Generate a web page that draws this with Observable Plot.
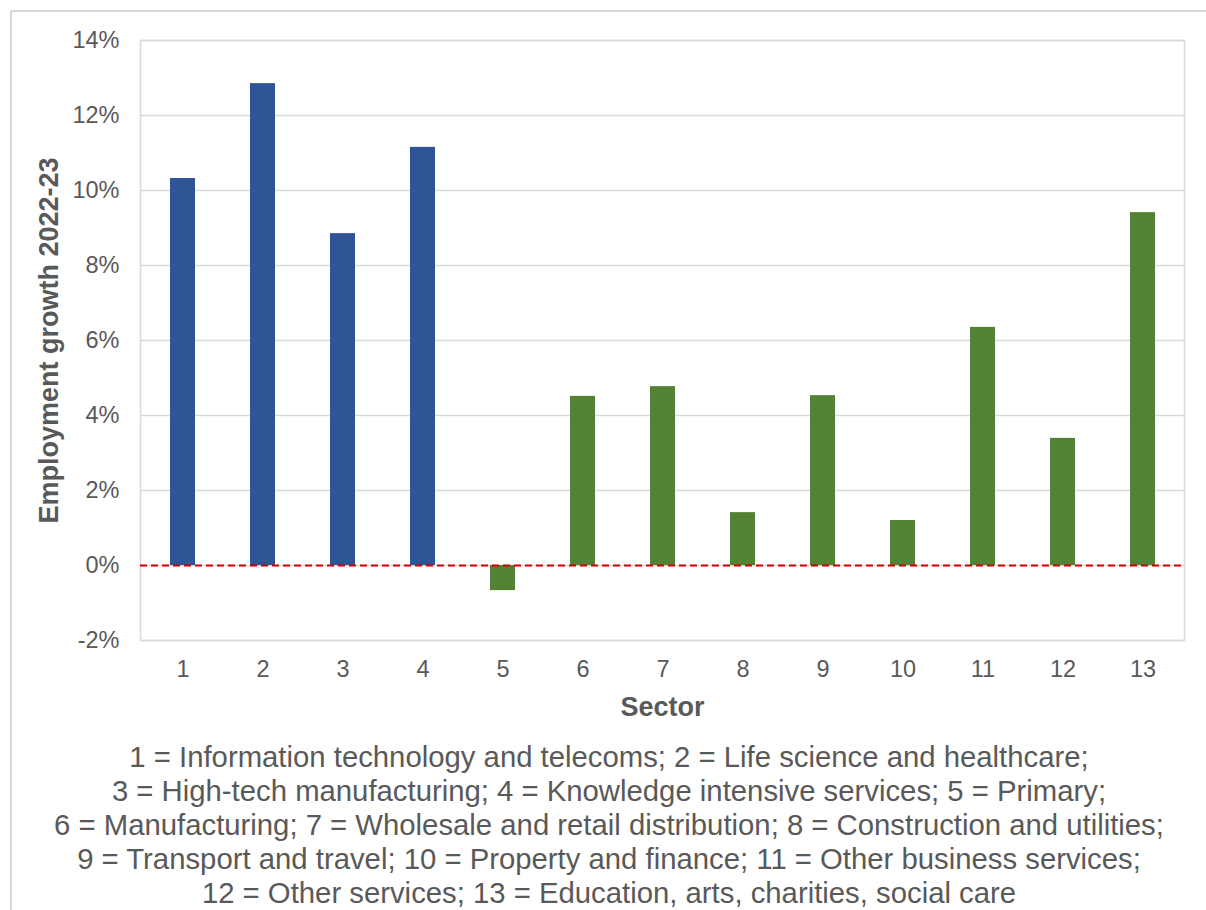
<!DOCTYPE html>
<html>
<head>
<meta charset="utf-8">
<script src="https://cdn.jsdelivr.net/npm/d3@7"></script>
<script src="https://cdn.jsdelivr.net/npm/@observablehq/plot@0.6"></script>
<style>
  html, body { margin: 0; padding: 0; background: #fff; overflow: hidden; }
  #wrap { position: relative; width: 1206px; height: 910px; }
  #border { position: absolute; left: 10px; top: 10px; width: 1220px; height: 920px; border: 2px solid #d9d9d9; box-sizing: border-box; }
  #chart { position: absolute; left: 0; top: 0; }
  #caption { position: absolute; left: 6px; top: 740px; width: 1206px; text-align: center;
    font-family: "Liberation Sans", Arial, sans-serif; font-size: 29.3px; line-height: 33.9px; color: #595959; }
  svg [aria-label="x-axis label"], svg [aria-label="y-axis label"] { font-weight: bold; font-size: 27px; }
</style>
</head>
<body>
<div id="wrap">
  <div id="border"></div>
  <div id="chart"></div>
  <div id="caption"></div>
</div>
<script>
const sectors = [1, 2, 3, 4, 5, 6, 7, 8, 9, 10, 11, 12, 13];
const growth = [10.32, 12.85, 8.85, 11.15, -0.67, 4.51, 4.77, 1.41, 4.53, 1.2, 6.35, 3.39, 9.41];
const groups = ["hi", "hi", "hi", "hi", "other", "other", "other", "other", "other", "other", "other", "other", "other"];
const yTicks = [-2, 0, 2, 4, 6, 8, 10, 12, 14];
const captionLines = [
  "1 = Information technology and telecoms; 2 = Life science and healthcare;",
  "3 = High-tech manufacturing; 4 = Knowledge intensive services; 5 = Primary;",
  "6 = Manufacturing; 7 = Wholesale and retail distribution; 8 = Construction and utilities;",
  "9 = Transport and travel; 10 = Property and finance; 11 = Other business services;",
  "12 = Other services; 13 = Education, arts, charities, social care"
];

const data = sectors.map((s, i) => ({sector: s, value: growth[i], group: groups[i]}));

const chart = Plot.plot({
  width: 1206,
  height: 730,
  marginLeft: 140,
  marginRight: 22,
  marginTop: 40,
  marginBottom: 90,
  style: {fontFamily: "'Liberation Sans', Arial, sans-serif", fontSize: "23.5px", color: "#595959", background: "transparent"},
  x: {type: "band", domain: sectors, paddingInner: 0.69, paddingOuter: 0.345},
  y: {domain: [-2, 14]},
  color: {domain: ["hi", "other"], range: ["#2F5597", "#548235"]},
  marks: [
    Plot.ruleY(yTicks, {stroke: "#d9d9d9", strokeWidth: 1.5}),
    Plot.frame({stroke: "#d9d9d9", strokeWidth: 1.5}),
    Plot.barY(data, {x: "sector", y: "value", fill: "group"}),
    Plot.ruleY([0], {stroke: "#D00000", strokeWidth: 2, strokeDasharray: "7,4"}),
    Plot.axisY({ticks: yTicks, tickFormat: d => d + "%", tickSize: 0, tickPadding: 21,
      label: "Employment growth 2022-23", labelAnchor: "center", labelArrow: "none", labelOffset: 102}),
    Plot.axisX({tickSize: 0, tickPadding: 20, label: "Sector", labelAnchor: "center", labelArrow: "none", labelOffset: 75})
  ]
});
document.getElementById("chart").appendChild(chart);
document.getElementById("caption").innerHTML = captionLines.map(l => `<div>${l}</div>`).join("");
</script>
</body>
</html>
